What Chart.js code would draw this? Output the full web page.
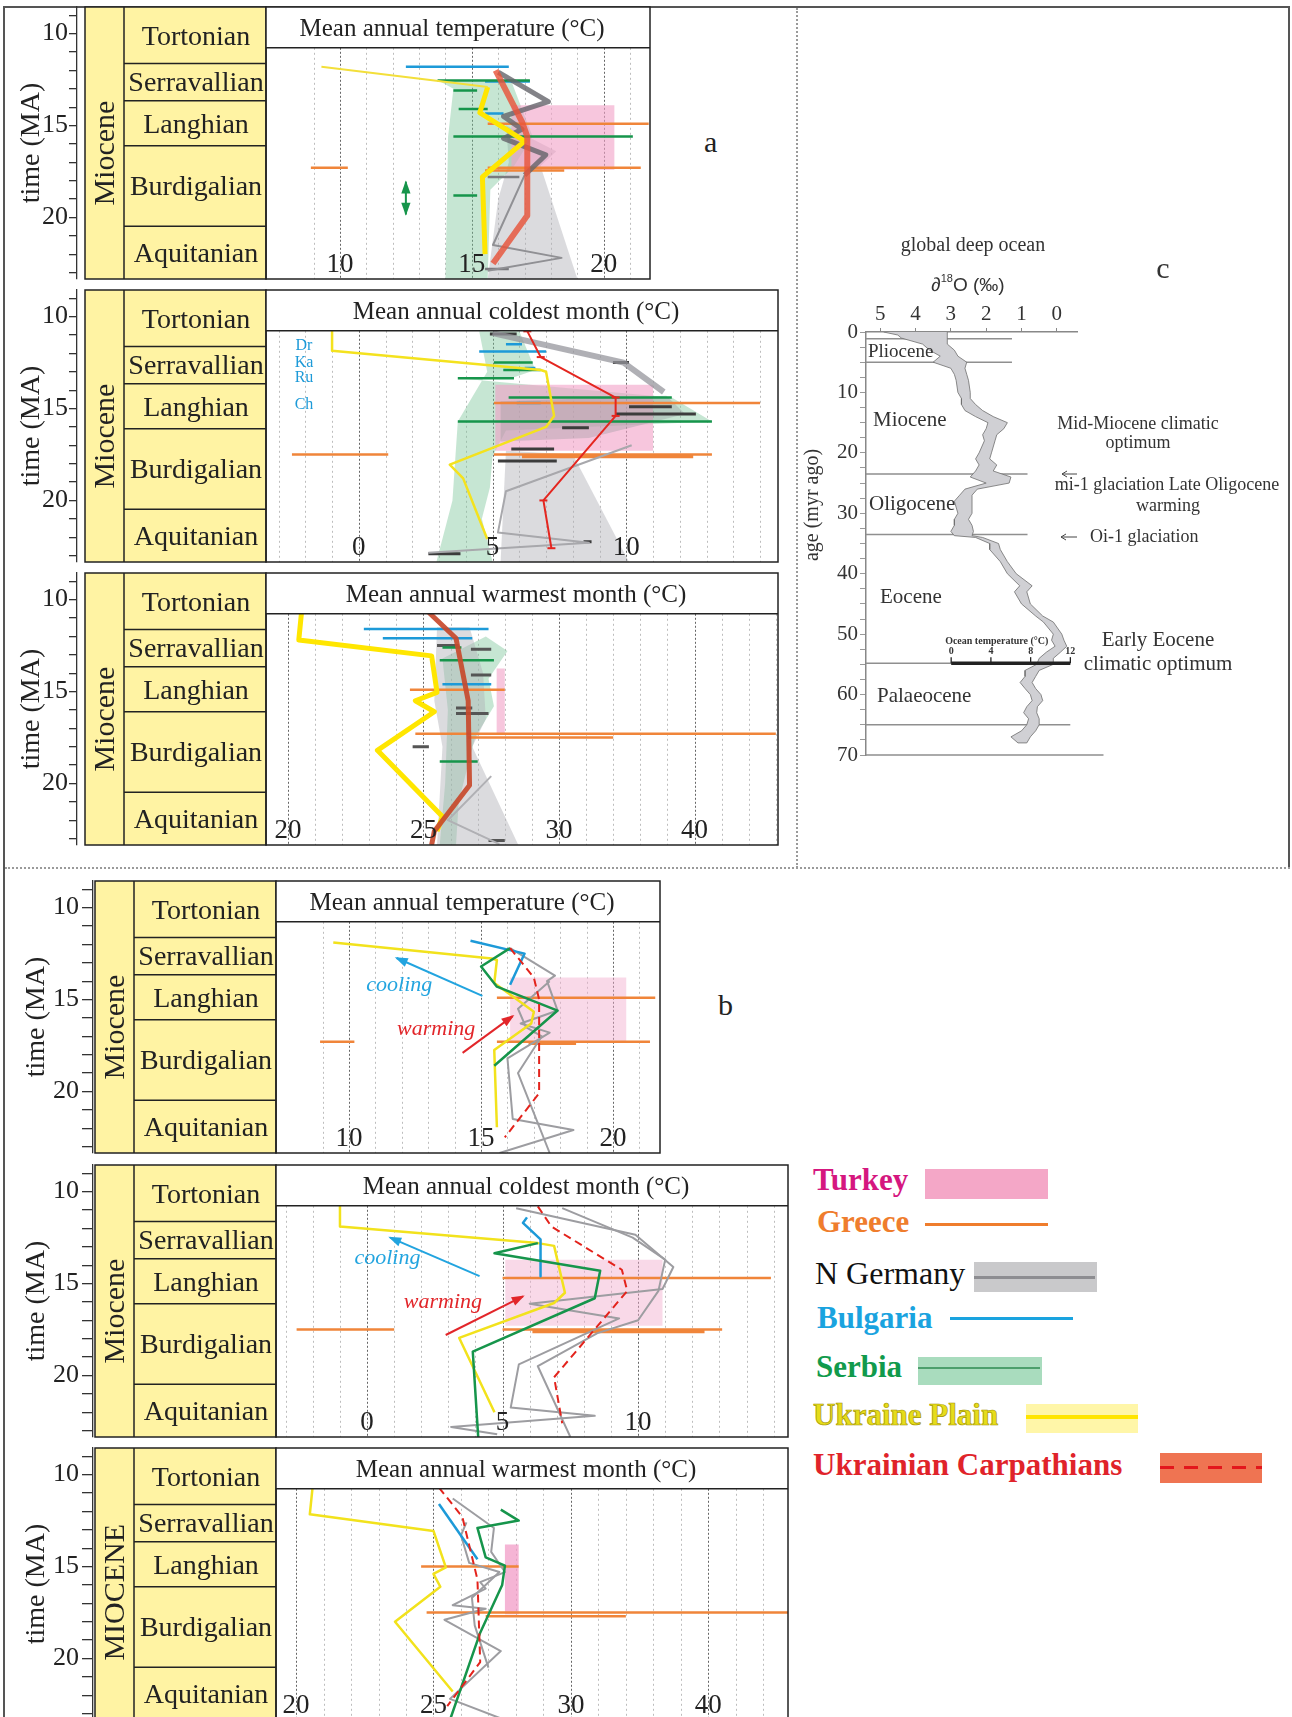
<!DOCTYPE html>
<html>
<head>
<meta charset="utf-8">
<script src="https://cdn.jsdelivr.net/npm/chart.js@4.4.1/dist/chart.umd.min.js"></script>
<style>
body { margin: 0; background: #fff; }
#page { position: relative; width: 1292px; height: 1717px; overflow: hidden; background: #fff; font-family: "Liberation Serif", serif; }
#page canvas { position: absolute; }
.ln, .sw { position: absolute; }
.lg { position: absolute; font-size: 31px; line-height: 34px; white-space: nowrap; }
.let { position: absolute; font-size: 30px; line-height: 34px; color: #222; }
</style>
</head>
<body>
<div id="page">
  <div class="ln" style="left:3px;top:6px;width:2px;height:1711px;background:#555"></div>
  <div class="ln" style="left:3px;top:6px;width:1287px;height:2px;background:#555"></div>
  <div class="ln" style="left:1288px;top:6px;width:2px;height:862px;background:#555"></div>
  <div class="ln" style="left:796px;top:8px;width:0;height:860px;border-left:2px dotted #9a9a9a"></div>
  <div class="ln" style="left:5px;top:867px;width:1285px;height:0;border-top:2px dotted #9a9a9a"></div>
  <div class="let" style="left:704px;top:125px">a</div>
  <div class="let" style="left:718px;top:988px">b</div>

  <div class="lg" style="left:813px;top:1163px;color:#d5177f;font-weight:bold">Turkey</div>
  <div class="sw" style="left:925px;top:1169px;width:123px;height:30px;background:#f4a7c7"></div>
  <div class="lg" style="left:817px;top:1205px;color:#ef7d2d;font-weight:bold">Greece</div>
  <div class="sw" style="left:925px;top:1223px;width:123px;height:3px;background:#ef7d2d"></div>
  <div class="lg" style="left:815px;top:1256px;color:#111;font-size:32px">N Germany</div>
  <div class="sw" style="left:974px;top:1262px;width:123px;height:30px;background:#c9c9cb"></div>
  <div class="sw" style="left:974px;top:1276px;width:121px;height:3px;background:#8d8d91"></div>
  <div class="lg" style="left:817px;top:1301px;color:#1aa3df;font-weight:bold">Bulgaria</div>
  <div class="sw" style="left:950px;top:1317px;width:123px;height:3px;background:#1aa3df"></div>
  <div class="lg" style="left:816px;top:1350px;color:#119a4c;font-weight:bold">Serbia</div>
  <div class="sw" style="left:918px;top:1357px;width:124px;height:28px;background:#a9dcbe"></div>
  <div class="sw" style="left:918px;top:1367px;width:122px;height:2px;background:#4c9f6c"></div>
  <div class="lg" style="left:813px;top:1398px;color:#e6dc1a;font-weight:bold;-webkit-text-stroke:0.7px #a39400">Ukraine Plain</div>
  <div class="sw" style="left:1026px;top:1404px;width:112px;height:29px;background:#fff6a8"></div>
  <div class="sw" style="left:1026px;top:1415px;width:112px;height:4px;background:#ffe500"></div>
  <div class="lg" style="left:813px;top:1448px;color:#e0232a;font-weight:bold">Ukrainian Carpathians</div>
  <div class="sw" style="left:1160px;top:1453px;width:102px;height:30px;background:#ef7452"></div>
  <div class="sw" style="left:1160px;top:1466px;width:102px;height:3px;background:repeating-linear-gradient(90deg,#e3161c 0 14px,transparent 14px 24px)"></div>
</div>
<script>
// ---------- stratigraphy (time in Ma) ----------
const stageNames = ['Tortonian', 'Serravallian', 'Langhian', 'Burdigalian', 'Aquitanian'];
const stageTops = [8.55, 11.62, 13.65, 16.1, 20.48];
const stageBase = 23.35;
const titleBase = 10.77;
const timeTicks = [9, 10, 11, 12, 13, 14, 15, 16, 17, 18, 19, 20, 21, 22, 23];

// ---------- x tick labels ----------
const matTicks = [10, 15, 20];
const coldTicks = [0, 5, 10];
const warmTicks = [20, 25, 30, 35];
const warmTickLabels = ['20', '25', '30', '40'];

// ---------- panel a : mean annual temperature  [temp, time] ----------
const aMatPlainThin = [[9.3, 11.8], [15.6, 12.9]];
const aMatPlain = [[15.6, 12.9], [15.3, 14.3], [17.0, 15.85], [15.4, 17.8], [15.5, 22.0]];
const aMatCarp = [[15.9, 12.0], [16.9, 14.8], [17.1, 15.6], [17.1, 19.9], [15.8, 22.5]];
const aMatGermany = [[16.0, 12.1], [17.9, 13.7], [16.2, 14.5], [16.9, 15.2], [16.2, 15.7], [17.8, 16.6], [17.0, 17.7]];
const aMatGermanyThin = [[17.0, 17.7], [15.8, 21.5], [18.4, 22.2], [15.6, 22.9]];
const aMatGermanyBand = [[16.3, 15.0], [18.2, 16.4], [17.6, 17.2], [19.0, 23.35], [15.6, 23.35], [16.0, 19.0], [16.4, 17.0]];
const aMatSerbiaBand = [[13.8, 12.6], [16.5, 12.6], [17.3, 15.6], [16.6, 17.2], [15.7, 18.5], [15.6, 23.35], [14.0, 23.35], [14.1, 15.6], [14.3, 13.0]];
// bars: [from, to, time]
const aMatSerbia = [[13.7, 17.2, 12.55], [14.3, 15.2, 13.1], [14.5, 15.6, 14.1], [14.3, 21.1, 15.6], [14.3, 15.2, 18.8]];
const aMatBulgaria = [[12.5, 16.4, 11.8], [15.5, 17.2, 12.6], [15.5, 16.2, 14.35]];
const aMatGreece = [[8.9, 10.3, 17.3], [15.6, 21.7, 14.9], [15.6, 21.4, 17.3], [15.5, 18.5, 17.45]];
const aMatGermanyBars = [[15.6, 16.8, 17.8], [15.5, 16.4, 22.8]];
const aMatTurkey = [16.5, 20.4, 13.9, 17.4];
const aMatRange = [[12.5, 18.1], [12.5, 19.8]];

// ---------- panel a : coldest month ----------
const aColdPlain = [[-1.0, 10.8], [-1.0, 11.85], [6.8, 12.9], [7.0, 13.0], [7.3, 15.4], [7.0, 16.0], [3.4, 18.05], [3.9, 18.8], [4.8, 22.1]];
const aColdCarp = [[6.3, 10.8], [6.8, 12.2], [9.6, 14.4], [9.6, 15.4], [6.9, 20.0], [7.2, 22.6]];
const aColdGermany = [[5.0, 10.9], [9.9, 12.5], [11.4, 14.1]];
const aColdGermanyThin = [[10.2, 17.0], [5.5, 19.5], [5.2, 21.75], [8.6, 22.3], [2.6, 22.85]];
const aColdGermanyBand = [[5.5, 17.3], [8.0, 17.5], [10.1, 23.35], [5.3, 23.35]];
const aColdGermanyBand2 = [[5.3, 14.6], [11.5, 14.3], [12.2, 15.3], [8.6, 16.6], [5.3, 16.8]];
const aColdSerbiaBand = [[4.5, 10.8], [6.0, 10.8], [6.6, 12.9], [5.8, 13.3], [3.7, 13.35], [11.7, 14.4], [13.2, 15.7], [5.5, 16.2], [5.0, 17.6], [4.9, 19.3], [4.6, 21.0], [5.0, 23.35], [2.9, 23.35], [3.5, 20.0], [3.7, 15.7], [4.8, 13.0]];
const aColdSerbia = [[5.05, 6.5, 12.5], [5.4, 6.8, 12.9], [3.7, 5.8, 13.35], [5.6, 11.7, 14.4], [3.7, 13.2, 15.7]];
const aColdBulgaria = [[5.5, 6.1, 11.5], [4.5, 7.0, 11.9], [6.2, 6.6, 12.8], [5.9, 6.8, 14.7]];
const aColdGreece = [[5.05, 15.0, 14.7], [-2.5, 1.1, 17.5], [5.05, 13.2, 17.5]];
const aColdGreeceThick = [[6.1, 12.5, 17.6]];
const aColdGermanyBars = [[4.9, 5.9, 10.95], [9.5, 10.1, 12.5], [10.1, 11.7, 14.9], [9.6, 12.6, 15.3], [7.6, 8.6, 16.05], [5.7, 7.3, 17.2], [5.2, 7.4, 17.85], [8.4, 8.7, 22.25], [2.6, 3.8, 22.9]];
const aColdTurkey = [5.1, 11.0, 13.7, 17.3];
const aColdSites = ['Dr', 'Ka', 'Ru', 'Ch'];
const aColdSiteTimes = [11.6, 12.5, 13.3, 14.8];

// ---------- panel a : warmest month (x in grid units) ----------
const aWarmPlain = [[20.5, 10.7], [20.4, 12.2], [25.3, 13.06], [25.5, 15.05], [24.7, 15.5], [25.4, 16.1], [23.3, 18.2], [25.7, 21.8], [25.5, 22.6]];
const aWarmCarp = [[25.2, 10.7], [26.2, 12.1], [26.65, 15.5], [26.7, 20.1], [25.4, 22.6], [25.3, 23.35]];
const aWarmGermanyBand = [[25.5, 11.5], [26.7, 11.5], [27.2, 14.0], [27.3, 16.5], [26.8, 18.0], [28.5, 23.35], [25.5, 23.35], [25.7, 18.0], [25.4, 15.5]];
const aWarmGermanyThin = [[27.5, 19.6], [25.9, 22.0], [27.8, 23.3]];
const aWarmSerbiaBand = [[27.3, 12.0], [28.1, 12.8], [27.4, 14.3], [27.6, 15.8], [26.9, 17.5], [26.3, 21.0], [26.2, 23.35], [25.6, 23.35], [25.8, 20.0], [25.9, 16.0], [25.7, 13.2]];
const aWarmBulgaria = [[22.8, 27.4, 11.6], [23.5, 26.8, 12.1], [25.7, 27.5, 14.6]];
const aWarmGreece = [[24.5, 28.0, 14.9], [24.7, 38.0, 17.3], [26.65, 32.0, 17.5]];
const aWarmSerbia = [[25.7, 26.4, 12.6], [25.6, 27.6, 13.3], [25.6, 27.0, 18.8]];
const aWarmGermanyBars = [[25.5, 26.3, 12.5], [26.75, 27.5, 12.7], [26.75, 27.5, 14.1], [26.2, 26.8, 15.9], [26.2, 27.4, 16.2], [24.6, 25.2, 18.0], [27.4, 28.0, 23.1]];
const aWarmTurkey = [27.7, 28.0, 13.75, 17.3];

// ---------- panel b : mean annual temperature ----------
const bMatPlain = [[9.4, 11.9], [15.4, 12.77], [15.6, 12.85], [15.5, 14.1], [17.0, 15.66], [16.9, 16.3], [15.5, 17.75], [15.6, 21.95]];
const bMatSerbia = [[16.1, 12.2], [15.0, 13.2], [15.6, 14.3], [17.9, 15.6], [15.5, 18.6]];
const bMatBulgaria = [[14.6, 11.8], [16.65, 12.5], [16.1, 14.2]];
const bMatCarp = [[16.1, 12.2], [17.0, 13.8], [17.2, 15.0], [17.2, 20.1], [15.9, 22.5]];
const bMatGermany1 = [[16.1, 12.2], [17.8, 13.7], [17.5, 14.0], [17.9, 15.6], [16.5, 16.3], [17.6, 16.8], [16.0, 18.2], [16.2, 21.5], [18.5, 22.1], [15.7, 23.35]];
const bMatGermany2 = [[17.6, 14.0], [16.4, 15.5], [16.7, 16.5], [17.3, 17.0], [16.4, 19.0], [17.6, 23.35]];
const bMatTurkey = [16.1, 20.5, 13.8, 17.3];
const bMatGreece = [[15.6, 21.6, 14.9], [8.9, 10.2, 17.3], [15.6, 21.4, 17.3], [16.8, 18.6, 17.4]];
const bMatCooling = [[15.05, 14.8], [11.8, 12.74]];
const bMatWarming = [[14.3, 17.9], [16.2, 15.9]];

// ---------- panel b : coldest month ----------
const bColdPlain = [[-1.0, 10.8], [-1.0, 11.9], [6.3, 12.8], [6.9, 12.95], [7.3, 15.5], [6.9, 16.06], [3.4, 17.96], [4.7, 22.0]];
const bColdSerbia = [[6.3, 12.8], [4.7, 13.35], [8.6, 14.3], [8.4, 15.8], [3.9, 18.7], [4.1, 23.35]];
const bColdBulgaria = [[5.9, 11.4], [5.75, 11.7], [6.4, 12.6], [6.4, 14.6]];
const bColdCarp = [[6.3, 10.8], [6.8, 11.9], [9.4, 14.25], [9.6, 15.4], [6.9, 20.1], [7.2, 22.6]];
const bColdGermany1 = [[5.5, 10.9], [9.9, 12.35], [11.3, 14.1], [10.9, 15.3], [6.0, 16.1], [9.3, 16.9], [5.6, 19.4], [5.3, 21.75], [8.4, 22.2], [3.1, 22.8], [4.8, 23.2]];
const bColdGermany2 = [[7.2, 10.9], [9.8, 12.5], [11.0, 13.7], [10.75, 15.4], [10.0, 17.0], [8.5, 17.7], [6.3, 19.5], [7.5, 23.35]];
const bColdTurkey = [5.1, 10.9, 13.7, 17.3];
const bColdGreece = [[5.0, 14.9, 14.7], [-2.6, 1.0, 17.5], [5.0, 13.1, 17.5]];
const bColdGreeceThick = [[6.1, 12.45, 17.6]];
const bColdCooling = [[4.15, 14.6], [0.85, 12.5]];
const bColdWarming = [[2.9, 17.8], [5.75, 15.7]];

// ---------- panel b : warmest month ----------
const bWarmPlain = [[20.6, 10.7], [20.5, 12.16], [25.0, 13.06], [25.45, 15.05], [25.0, 15.4], [25.25, 16.1], [23.6, 18.0], [25.7, 21.8]];
const bWarmCarp = [[25.2, 10.7], [26.05, 12.3], [26.6, 15.7], [26.7, 20.2], [25.5, 22.6]];
const bWarmSerbia = [[27.45, 11.9], [28.1, 12.5], [26.6, 12.9], [26.9, 14.5], [27.6, 14.95], [27.5, 16.0], [26.7, 18.6], [25.6, 23.35]];
const bWarmBulgaria = [[25.2, 11.6], [26.6, 14.6]];
const bWarmGermany1 = [[25.7, 11.3], [27.2, 12.9], [27.1, 14.2], [27.6, 15.3], [26.7, 15.85], [26.9, 16.2], [25.7, 17.1], [26.9, 17.3], [25.4, 17.9], [27.45, 19.6], [25.6, 22.2], [27.6, 23.35]];
const bWarmGermany2 = [[26.2, 12.6], [26.0, 13.3], [26.3, 14.8], [27.4, 15.3], [26.4, 16.7], [26.5, 18.2], [27.0, 20.5]];
const bWarmTurkey = [27.6, 28.1, 13.8, 17.6];
const bWarmGreece = [[24.55, 28.1, 15.0], [24.75, 37.9, 17.5], [26.9, 32.0, 17.7]];

// ---------- panel c : global deep ocean d18O ----------
const o18Age = [0, 0.5, 1, 2, 3, 4, 5, 6, 7, 8, 10, 11, 12, 13, 14, 15, 16, 17, 18, 20, 21, 22, 23, 24, 25, 26, 27, 28, 30, 31, 32, 33, 33.7, 34, 35, 36, 38, 40, 42, 43, 45, 47, 48, 50, 51, 52, 53, 54, 55, 56, 57, 58, 59, 60, 61, 62, 63, 64, 65, 66, 67, 68];
const o18High = [4.9, 4.5, 4.4, 3.8, 3.6, 3.3, 3.5, 3.0, 2.9, 2.85, 2.8, 2.7, 2.7, 2.6, 2.3, 1.95, 2.0, 2.1, 2.05, 2.2, 2.3, 2.2, 2.3, 2.45, 2.0, 2.6, 2.75, 2.9, 2.8, 2.9, 2.9, 3.0, 2.9, 2.3, 1.9, 1.9, 1.6, 1.4, 1.05, 1.2, 1.0, 0.6, 0.38, 0.1, 0.15, 0.05, 0.3, 0.5, 0.57, 0.9, 0.9, 1.04, 0.9, 0.75, 0.7, 0.85, 0.94, 0.8, 0.85, 1.0, 1.3, 1.1];
const o18Low = [3.1, 3.1, 3.1, 3.1, 2.9, 2.8, 2.55, 2.6, 2.55, 2.5, 2.45, 2.45, 2.3, 2.1, 1.8, 1.4, 1.5, 1.7, 1.75, 1.85, 1.9, 1.7, 1.8, 1.3, 1.35, 2.25, 2.4, 2.4, 2.4, 2.5, 2.4, 2.36, 2.4, 2.1, 1.65, 1.6, 1.4, 1.15, 0.7, 0.85, 0.75, 0.4, 0.1, -0.14, -0.2, -0.28, -0.1, 0.1, 0.1, 0.5, 0.6, 0.7, 0.6, 0.45, 0.4, 0.55, 0.57, 0.5, 0.5, 0.6, 0.75, 0.85];
const periodLineAges = [1.1, 5.0, 23.5, 33.5, 54.8, 65.0, 70];
const periodLineEnds = [1.27, 1.27, 0.83, 0.83, -0.38, -0.38, -1.32];
const periodNames = ['Pliocene', 'Miocene', 'Oligocene', 'Eocene', 'Palaeocene'];
const periodNameAges = [3.3, 14.6, 28.5, 44, 60.3];
const ageTicks = [0, 2.5, 5, 7.5, 10, 12.5, 15, 17.5, 20, 22.5, 25, 27.5, 30, 32.5, 35, 37.5, 40, 42.5, 45, 47.5, 50, 52.5, 55, 57.5, 60, 62.5, 65, 67.5, 70];
const deltaTicks = [0, 1, 2, 3, 4, 5];
const oceanTempTicks = [0, 4, 8, 12];
const oceanBarAge = 54.8;

const SERIF = 'Liberation Serif';
Chart.defaults.font.family = SERIF;
const page = document.getElementById('page');

function addCanvas(left, top, w, h) {
    const c = document.createElement('canvas');
    c.width = w; c.height = h;
    c.style.left = left + 'px'; c.style.top = top + 'px';
    c.style.width = w + 'px'; c.style.height = h + 'px';
    page.appendChild(c);
    return c;
}

function P(arr) { return arr.map(p => ({x: p[0], y: p[1]})); }
function B(arr) {
    const out = [];
    arr.forEach(b => { out.push({x: b[0], y: b[2]}, {x: b[1], y: b[2]}, {x: null, y: null}); });
    return out;
}
function R(r) { return [{x: r[0], y: r[2]}, {x: r[1], y: r[2]}, {x: r[1], y: r[3]}, {x: r[0], y: r[3]}]; }

function lineDs(data, color, width, extra) {
    return Object.assign({data: P(data), showLine: true, borderColor: color, borderWidth: width,
        pointRadius: 0, fill: false, order: 3, borderJoinStyle: 'round'}, extra || {});
}
function barDs(data, color, width, extra) {
    return Object.assign({data: B(data), showLine: true, borderColor: color, borderWidth: width,
        pointRadius: 0, fill: false, spanGaps: false, order: 5}, extra || {});
}
function areaDs(points, color, extra) {
    return Object.assign({data: points, showLine: true, borderColor: 'rgba(0,0,0,0)', borderWidth: 0,
        backgroundColor: color, pointRadius: 0, fill: 'shape', order: 10}, extra || {});
}

function drawHead(ctx, from, to, color, size) {
    const ang = Math.atan2(to.y - from.y, to.x - from.x);
    ctx.save();
    ctx.fillStyle = color;
    ctx.translate(to.x, to.y);
    ctx.rotate(ang);
    ctx.beginPath();
    ctx.moveTo(2, 0);
    ctx.lineTo(-size, -size * 0.42);
    ctx.lineTo(-size, size * 0.42);
    ctx.closePath();
    ctx.fill();
    ctx.restore();
}

const GREEN = '#16954b', BLUE = '#1d9ad8', ORANGE = '#f0853a', GRAY = '#9d9da1';
const PINK = 'rgba(241,160,198,0.6)', GREENFILL = 'rgba(118,196,150,0.42)', GRAYFILL = 'rgba(176,176,182,0.45)';

function stageChart(o) {
    const PAD = 20;
    const canvas = addCanvas(0, o.top - PAD, o.right + 12, 272 + 2 * PAD);
    const frame = {
        id: 'frame',
        beforeDatasetsDraw(chart) {
            const ctx = chart.ctx, xs = chart.scales.x, ys = chart.scales.y, a = chart.chartArea;
            const yT = ys.getPixelForValue(titleBase);
            ctx.save();
            for (let v = o.gridFrom; v <= Math.floor(o.xMax); v++) {
                const px = Math.round(xs.getPixelForValue(v)) + 0.5;
                const major = o.ticks.includes(v);
                ctx.strokeStyle = major ? '#666' : '#bdbdbd';
                ctx.lineWidth = 1;
                ctx.setLineDash(major ? [2, 2] : [2, 3]);
                ctx.beginPath(); ctx.moveTo(px, yT); ctx.lineTo(px, a.bottom); ctx.stroke();
            }
            ctx.restore();
        },
        afterDatasetsDraw(chart) {
            const ctx = chart.ctx, xs = chart.scales.x, ys = chart.scales.y, a = chart.chartArea;
            const yT = ys.getPixelForValue(titleBase);
            ctx.save();
            // arrow heads
            chart.data.datasets.forEach((ds, i) => {
                if (!ds.arrow) return;
                const p = chart.getDatasetMeta(i).data;
                const n = p.length;
                drawHead(ctx, p[n - 2], p[n - 1], ds.borderColor, 11);
                if (ds.arrow === 'both') drawHead(ctx, p[1], p[0], ds.borderColor, 11);
            });
            // notes
            (o.notes || []).forEach(n => {
                ctx.font = n.font; ctx.fillStyle = n.color;
                ctx.textAlign = 'center'; ctx.textBaseline = 'middle';
                ctx.fillText(n.text, xs.getPixelForValue(n.x), ys.getPixelForValue(n.y));
            });
            // stage column
            const top = ys.getPixelForValue(stageTops[0]), bot = ys.getPixelForValue(stageBase);
            ctx.fillStyle = '#fff3a3';
            ctx.fillRect(o.colLeft, top, a.left - o.colLeft, bot - top);
            ctx.strokeStyle = '#222'; ctx.lineWidth = 1.5; ctx.setLineDash([]);
            ctx.strokeRect(o.colLeft, top, a.left - o.colLeft, bot - top);
            ctx.beginPath(); ctx.moveTo(o.colMid, top); ctx.lineTo(o.colMid, bot); ctx.stroke();
            ctx.fillStyle = '#222'; ctx.textAlign = 'center'; ctx.textBaseline = 'middle';
            ctx.font = '28px "Liberation Serif"';
            stageNames.forEach((name, i) => {
                const y0 = ys.getPixelForValue(stageTops[i]);
                const y1 = ys.getPixelForValue(i < stageNames.length - 1 ? stageTops[i + 1] : stageBase);
                if (i > 0) { ctx.beginPath(); ctx.moveTo(o.colMid, y0); ctx.lineTo(a.left, y0); ctx.stroke(); }
                ctx.fillText(name, (o.colMid + a.left) / 2 + 1, (y0 + y1) / 2 + 2);
            });
            ctx.save();
            ctx.translate((o.colLeft + o.colMid) / 2 + 2, ys.getPixelForValue(o.epochAt));
            ctx.rotate(-Math.PI / 2);
            ctx.font = '30px "Liberation Serif"';
            ctx.fillText(o.epoch, 0, 0);
            ctx.restore();
            // title box and plot frame
            ctx.fillStyle = '#fff';
            ctx.fillRect(a.left, top, a.right - a.left, yT - top);
            ctx.strokeRect(a.left, top, a.right - a.left, a.bottom - top);
            ctx.beginPath(); ctx.moveTo(a.left, yT); ctx.lineTo(a.right, yT); ctx.stroke();
            ctx.fillStyle = '#222'; ctx.font = '25px "Liberation Serif"';
            ctx.fillText(o.title, (a.left + a.right) / 2 - 6, (top + yT) / 2 + 2);
            // x tick labels inside the plot
            ctx.textBaseline = 'bottom';
            ctx.font = '27px "Liberation Serif"';
            o.ticks.forEach((v, i) => ctx.fillText(o.tickLabels[i], xs.getPixelForValue(v), a.bottom - 1));
            ctx.restore();
        }
    };
    return new Chart(canvas, {
        type: 'scatter',
        data: {datasets: o.datasets},
        options: {
            responsive: false, animation: false, events: [], devicePixelRatio: 1,
            layout: {padding: {top: PAD, bottom: PAD, left: 0, right: 12}},
            plugins: {legend: {display: false}, tooltip: {enabled: false}},
            scales: {
                x: {type: 'linear', display: false, min: o.xMin, max: o.xMax},
                y: {
                    type: 'linear', position: 'left', reverse: true, min: stageTops[0], max: stageBase, weight: 1,
                    afterFit(s) { s.width = o.axisX; },
                    afterBuildTicks(s) { s.ticks = timeTicks.map(v => ({value: v})); },
                    ticks: {autoSkip: false, font: {family: SERIF, size: 26}, color: '#222', padding: o.tickPad,
                        callback: v => (v % 5 === 0 ? String(v) : '')},
                    grid: {drawOnChartArea: false, tickLength: o.tickLen, color: '#333', lineWidth: 1.3},
                    border: {display: true, color: '#333', width: 1.3},
                    title: {display: true, text: 'time (MA)', font: {family: SERIF, size: 28}, color: '#222',
                        padding: {top: o.titlePad, bottom: 0}}
                },
                stage: {
                    type: 'linear', position: 'left', weight: 0, min: 0, max: 1,
                    afterFit(s) { s.width = o.plotLeft - o.axisX; },
                    ticks: {display: false}, grid: {display: false}, border: {display: false}
                }
            }
        },
        plugins: [frame]
    });
}

const A = {axisX: 77, colLeft: 85, colMid: 124, plotLeft: 266, titlePad: 15, tickPad: 1, tickLen: 8};
const Bp = {axisX: 93, colLeft: 95, colMid: 134, plotLeft: 276, titlePad: 20, tickPad: 3, tickLen: 11};

// panel a, mean annual temperature
stageChart(Object.assign({}, A, {
    top: 7, right: 650, xMin: 7.2, xMax: 21.75, gridFrom: 9,
    ticks: matTicks, tickLabels: matTicks.map(String), title: 'Mean annual temperature (°C)',
    epoch: 'Miocene', epochAt: 16.5,
    datasets: [
        areaDs(P(aMatSerbiaBand), GREENFILL),
        areaDs(P(aMatGermanyBand), GRAYFILL),
        areaDs(R(aMatTurkey), PINK, {order: 9}),
        barDs(aMatGreece, ORANGE, 2.5),
        barDs(aMatSerbia, GREEN, 2.5),
        barDs(aMatBulgaria, BLUE, 2.5),
        barDs(aMatGermanyBars, '#7a7a7e', 2.5),
        lineDs(aMatGermany, 'rgba(100,100,106,0.8)', 5, {order: 4}),
        lineDs(aMatGermanyThin, '#909094', 2, {order: 4}),
        lineDs(aMatPlainThin, '#f3df3a', 2, {order: 2}),
        lineDs(aMatPlain, '#ffe600', 5, {order: 2}),
        lineDs(aMatCarp, 'rgba(232,84,58,0.82)', 6, {order: 1}),
        lineDs(aMatRange, GREEN, 2, {arrow: 'both', order: 1})
    ]
}));

// panel a, coldest month
stageChart(Object.assign({}, A, {
    top: 290, right: 778, xMin: -3.47, xMax: 15.67, gridFrom: -3,
    ticks: coldTicks, tickLabels: coldTicks.map(String), title: 'Mean annual coldest month (°C)',
    epoch: 'Miocene', epochAt: 16.5,
    notes: aColdSites.map((s, i) => ({text: s, x: -2.05, y: aColdSiteTimes[i], color: BLUE, font: '16px "Liberation Serif"'})),
    datasets: [
        areaDs(P(aColdSerbiaBand), GREENFILL),
        areaDs(P(aColdGermanyBand), GRAYFILL),
        areaDs(R(aColdTurkey), PINK, {order: 9}),
        areaDs(P(aColdGermanyBand2), 'rgba(150,150,156,0.35)', {order: 8}),
        barDs(aColdGreece, ORANGE, 2.5),
        barDs(aColdGreeceThick, ORANGE, 4),
        barDs(aColdSerbia, GREEN, 2.5),
        barDs(aColdBulgaria, BLUE, 2.5),
        barDs(aColdGermanyBars, '#3c3c3c', 3),
        lineDs(aColdGermany, 'rgba(150,150,156,0.75)', 6, {order: 4}),
        lineDs(aColdGermanyThin, '#a8a8ac', 2, {order: 4}),
        lineDs(aColdPlain, '#f4e21e', 2.5, {order: 2}),
        lineDs(aColdCarp, '#e4261f', 2, {order: 1, pointRadius: 4, pointStyle: 'line', pointBorderColor: '#e4261f', pointBorderWidth: 2})
    ]
}));

// panel a, warmest month
stageChart(Object.assign({}, A, {
    top: 573, right: 778, xMin: 19.19, xMax: 38.08, gridFrom: 20,
    ticks: warmTicks, tickLabels: warmTickLabels, title: 'Mean annual warmest month (°C)',
    epoch: 'Miocene', epochAt: 16.5,
    datasets: [
        areaDs(P(aWarmGermanyBand), GRAYFILL),
        areaDs(P(aWarmSerbiaBand), GREENFILL),
        areaDs(R(aWarmTurkey), PINK, {order: 9}),
        barDs(aWarmGreece, ORANGE, 2.5),
        barDs(aWarmBulgaria, BLUE, 2.5),
        barDs(aWarmSerbia, GREEN, 2.5),
        barDs(aWarmGermanyBars, '#555', 3),
        lineDs(aWarmGermanyThin, '#b0b0b4', 2, {order: 4}),
        lineDs(aWarmPlain, '#ffe600', 5, {order: 2}),
        lineDs(aWarmCarp, 'rgba(200,74,44,0.92)', 5, {order: 1})
    ]
}));

// panel b, mean annual temperature
stageChart(Object.assign({}, Bp, {
    top: 881, right: 660, xMin: 7.23, xMax: 21.78, gridFrom: 9,
    ticks: matTicks, tickLabels: matTicks.map(String), title: 'Mean annual temperature (°C)',
    epoch: 'Miocene', epochAt: 16.5,
    notes: [
        {text: 'cooling', x: 11.9, y: 14.2, color: '#22a4df', font: 'italic 22px "Liberation Serif"'},
        {text: 'warming', x: 13.3, y: 16.6, color: '#e2262a', font: 'italic 22px "Liberation Serif"'}
    ],
    datasets: [
        areaDs(R(bMatTurkey), 'rgba(241,170,205,0.45)', {order: 9}),
        barDs(bMatGreece, ORANGE, 2.5),
        lineDs(bMatGermany1, GRAY, 2, {order: 4}),
        lineDs(bMatGermany2, GRAY, 2, {order: 4}),
        lineDs(bMatPlain, '#f2e21c', 2.5, {order: 3}),
        lineDs(bMatSerbia, GREEN, 2.5, {order: 2}),
        lineDs(bMatBulgaria, BLUE, 2.5, {order: 2}),
        lineDs(bMatCarp, '#e3231c', 2, {order: 1, borderDash: [8, 5]}),
        lineDs(bMatCooling, '#22a4df', 2, {order: 1, arrow: 'end'}),
        lineDs(bMatWarming, '#e2262a', 2, {order: 1, arrow: 'end'})
    ]
}));

// panel b, coldest month
stageChart(Object.assign({}, Bp, {
    top: 1165, right: 788, xMin: -3.36, xMax: 15.53, gridFrom: -3,
    ticks: coldTicks, tickLabels: coldTicks.map(String), title: 'Mean annual coldest month (°C)',
    epoch: 'Miocene', epochAt: 16.5,
    notes: [
        {text: 'cooling', x: 0.75, y: 13.6, color: '#22a4df', font: 'italic 22px "Liberation Serif"'},
        {text: 'warming', x: 2.8, y: 16.0, color: '#e2262a', font: 'italic 22px "Liberation Serif"'}
    ],
    datasets: [
        areaDs(R(bColdTurkey), 'rgba(241,170,205,0.45)', {order: 9}),
        barDs(bColdGreece, ORANGE, 2.5),
        barDs(bColdGreeceThick, ORANGE, 4),
        lineDs(bColdGermany1, GRAY, 2, {order: 4}),
        lineDs(bColdGermany2, GRAY, 2, {order: 4}),
        lineDs(bColdPlain, '#f2e21c', 2.5, {order: 3}),
        lineDs(bColdSerbia, GREEN, 2.5, {order: 2}),
        lineDs(bColdBulgaria, BLUE, 2.5, {order: 2}),
        lineDs(bColdCarp, '#e3231c', 2, {order: 1, borderDash: [8, 5]}),
        lineDs(bColdCooling, '#22a4df', 2, {order: 1, arrow: 'end'}),
        lineDs(bColdWarming, '#e2262a', 2, {order: 1, arrow: 'end'})
    ]
}));

// panel b, warmest month
stageChart(Object.assign({}, Bp, {
    top: 1448, right: 788, xMin: 19.27, xMax: 37.9, gridFrom: 20,
    ticks: warmTicks, tickLabels: warmTickLabels, title: 'Mean annual warmest month (°C)',
    epoch: 'MIOCENE', epochAt: 16.4,
    datasets: [
        areaDs(R(bWarmTurkey), 'rgba(241,150,195,0.7)', {order: 9}),
        barDs(bWarmGreece, ORANGE, 2.5),
        lineDs(bWarmGermany1, GRAY, 2, {order: 4}),
        lineDs(bWarmGermany2, GRAY, 2, {order: 4}),
        lineDs(bWarmPlain, '#f2e21c', 2.5, {order: 3}),
        lineDs(bWarmSerbia, GREEN, 2.5, {order: 2}),
        lineDs(bWarmBulgaria, BLUE, 2.5, {order: 2}),
        lineDs(bWarmCarp, '#e3231c', 2, {order: 1, borderDash: [8, 5]})
    ]
}));

// ---------- panel c ----------
(function () {
    const canvas = addCanvas(798, 200, 494, 575);
    const band = o18Age.map((t, i) => ({x: o18High[i], y: t}))
        .concat(o18Age.slice().reverse().map((t, i) => ({x: o18Low[o18Age.length - 1 - i], y: t})));
    const periodBars = periodLineAges.map((t, i) => [5.4, periodLineEnds[i], t]);
    const oceanDelta0 = 2.99, oceanDeltaPerDeg = 0.281;
    const notesPlugin = {
        id: 'oxyNotes',
        afterDatasetsDraw(chart) {
            const ctx = chart.ctx, xs = chart.scales.x, ys = chart.scales.y, a = chart.chartArea;
            ctx.save();
            ctx.fillStyle = '#333'; ctx.textAlign = 'center'; ctx.textBaseline = 'middle';
            ctx.font = '20px "Liberation Serif"';
            ctx.fillText('global deep ocean', 175, 46);
            // d18O label with superscript
            const big = '19px "Liberation Sans"', small = '11px "Liberation Sans"';
            ctx.textAlign = 'left';
            ctx.font = big; const w1 = ctx.measureText('\u2202').width, w3 = ctx.measureText('O (\u2030)').width;
            ctx.font = small; const w2 = ctx.measureText('18').width;
            const x0 = 170 - (w1 + w2 + w3) / 2;
            ctx.font = big; ctx.fillText('\u2202', x0, 86); ctx.fillText('O (\u2030)', x0 + w1 + w2, 86);
            ctx.font = small; ctx.fillText('18', x0 + w1, 79);
            ctx.textAlign = 'center'; ctx.font = '30px "Liberation Serif"';
            ctx.fillText('c', 365, 70);
            // epoch names
            ctx.textAlign = 'left';
            const inset = [2, 7, 3, 14, 11];
            periodNames.forEach((n, i) => {
                ctx.font = (i === 0 ? '19px' : '21px') + ' "Liberation Serif"';
                ctx.fillText(n, a.left + inset[i], ys.getPixelForValue(periodNameAges[i]));
            });
            // annotations
            ctx.textAlign = 'center';
            ctx.font = '18px "Liberation Serif"';
            ctx.fillText('Mid-Miocene climatic', 340, 224);
            ctx.fillText('optimum', 340, 243);
            ctx.fillText('mi-1 glaciation Late Oligocene', 369, 285);
            ctx.fillText('warming', 370, 306);
            ctx.textAlign = 'left';
            ctx.fillText('Oi-1 glaciation', 292, 337);
            ctx.font = '21px "Liberation Serif"'; ctx.textAlign = 'center';
            ctx.fillText('Early Eocene', 360, 440);
            ctx.fillText('climatic optimum', 360, 464);
            // small arrows
            ctx.strokeStyle = '#444'; ctx.lineWidth = 1;
            [[264, 279, 274], [263, 279, 337]].forEach(r => {
                ctx.beginPath(); ctx.moveTo(r[1], r[2]); ctx.lineTo(r[0], r[2]); ctx.stroke();
                ctx.beginPath(); ctx.moveTo(r[0] + 5, r[2] - 3); ctx.lineTo(r[0], r[2]); ctx.lineTo(r[0] + 5, r[2] + 3); ctx.stroke();
            });
            // ocean temperature scale
            const yb = ys.getPixelForValue(oceanBarAge);
            ctx.strokeStyle = '#222'; ctx.lineWidth = 1.3; ctx.fillStyle = '#333';
            ctx.font = 'bold 10px "Liberation Serif"'; ctx.textAlign = 'center';
            oceanTempTicks.forEach(t => {
                const px = xs.getPixelForValue(oceanDelta0 - t * oceanDeltaPerDeg);
                ctx.beginPath(); ctx.moveTo(px, yb); ctx.lineTo(px, yb - 6); ctx.stroke();
                ctx.fillText(String(t), px, yb - 12);
            });
            ctx.fillText('Ocean temperature (\u00b0C)', xs.getPixelForValue(oceanDelta0 - 6 * oceanDeltaPerDeg) - 14, yb - 22);
            // age title
            ctx.translate(15, 305); ctx.rotate(-Math.PI / 2);
            ctx.font = '20px "Liberation Serif"'; ctx.fillStyle = '#333';
            ctx.fillText('age (myr ago)', 0, 0);
            ctx.restore();
        }
    };
    new Chart(canvas, {
        type: 'scatter',
        data: {
            datasets: [
                {data: band, showLine: true, fill: 'shape', backgroundColor: '#d0d0d4', borderColor: '#6e6e6e',
                    borderWidth: 0.8, pointRadius: 0, order: 2},
                barDs(periodBars, '#8f8f8f', 1.5, {clip: false, order: 3}),
                barDs([[oceanDelta0, oceanDelta0 - 12 * oceanDeltaPerDeg, oceanBarAge]], '#222', 3.5, {clip: false, order: 1})
            ]
        },
        options: {
            responsive: false, animation: false, events: [], devicePixelRatio: 1,
            layout: {padding: {top: 100, bottom: 20, left: 0, right: 215}},
            plugins: {legend: {display: false}, tooltip: {enabled: false}},
            scales: {
                x: {
                    type: 'linear', position: 'top', reverse: true, min: -0.57, max: 5.4,
                    afterFit(s) { s.height = 32; },
                    afterBuildTicks(s) { s.ticks = deltaTicks.map(v => ({value: v})); },
                    ticks: {font: {family: SERIF, size: 21}, color: '#333', padding: 1, maxRotation: 0},
                    grid: {drawOnChartArea: false, tickLength: 4, color: '#888'},
                    border: {color: '#888', width: 1.5}
                },
                y: {
                    type: 'linear', position: 'left', reverse: true, min: 0, max: 70,
                    afterFit(s) { s.width = 68; },
                    afterBuildTicks(s) { s.ticks = ageTicks.map(v => ({value: v})); },
                    ticks: {autoSkip: false, font: {family: SERIF, size: 21}, color: '#333', padding: 2,
                        callback: v => (v % 10 === 0 ? String(v) : '')},
                    grid: {drawOnChartArea: false, tickLength: 6, color: '#999'},
                    border: {color: '#888', width: 1.5}
                }
            }
        },
        plugins: [notesPlugin]
    });
})();
</script>
</body>
</html>
